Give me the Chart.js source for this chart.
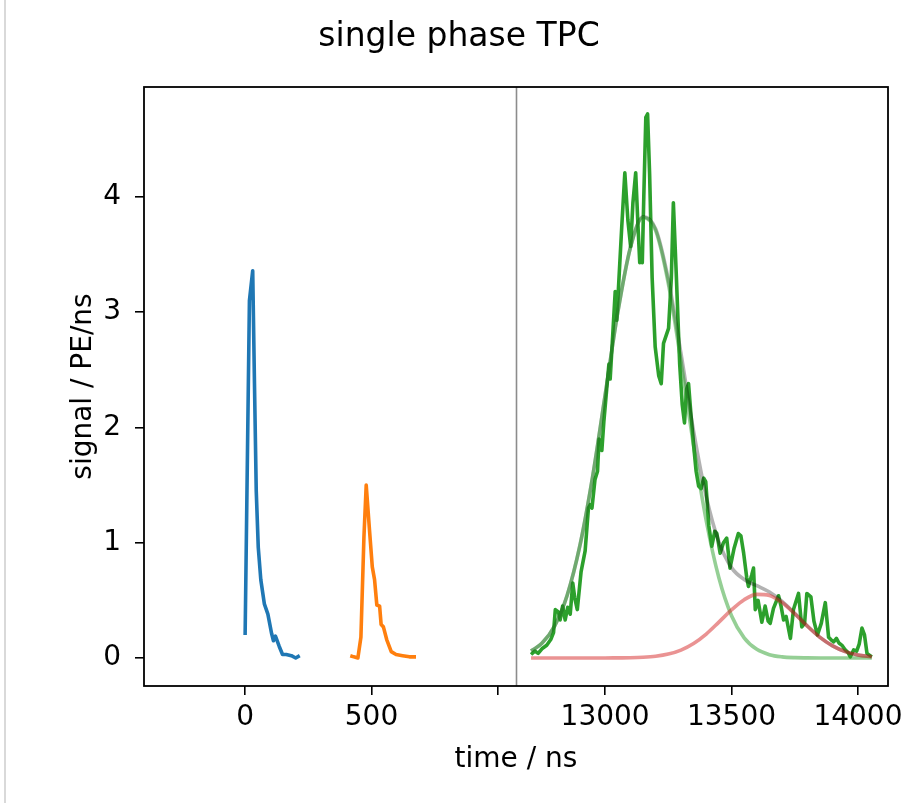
<!DOCTYPE html>
<html><head><meta charset="utf-8">
<script src="https://cdn.jsdelivr.net/npm/chart.js@4.4.1/dist/chart.umd.min.js"></script>
<style>
html,body{margin:0;padding:0;background:#fff;}
#wrap{position:relative;width:906px;height:803px;overflow:hidden;}
#frame{position:absolute;left:4px;top:0;width:2px;height:803px;background:#d9d9d9;}
canvas{position:absolute;left:0;top:0;}
</style></head><body>
<div id="wrap"><canvas id="c" width="906" height="803"></canvas><div id="frame"></div></div>
<script>
const titleText = 'single phase TPC';
const xLabel = 'time / ns';
const yLabel = 'signal / PE/ns';

// first pulse (blue)
const blueTime   = [0, 17, 30, 37, 44, 52, 62, 76, 90, 105, 112, 120, 135, 148, 163, 183, 200, 216];
const blueSignal = [0.2, 3.1, 3.36, 2.38, 1.45, 0.96, 0.68, 0.47, 0.38, 0.21, 0.15, 0.19, 0.1, 0.03, 0.03, 0.02, 0.0, 0.02];

// second pulse (orange)
const orangeTime   = [416, 430, 446, 458, 470, 479, 492, 503, 512, 521, 532, 538, 547, 560, 578, 597, 623, 650, 676];
const orangeSignal = [0.02, 0.01, 0.0, 0.18, 1.05, 1.50, 1.11, 0.79, 0.68, 0.46, 0.45, 0.29, 0.27, 0.16, 0.055, 0.03, 0.02, 0.01, 0.01];

// S2 signal (green)
const greenTime = [12707,12722,12735,12750,12769,12785,12796,12803,12815,12822,12832,12842,12852,12862,12872,12880,12890,12905,12921,12934,
  12941,12948,12960,12970,12976,12987,12995,13005,13015,13020,13030,13040,13046,13055,13066,13078,13090,13101,13110,13121,
  13130,13137,13142,13147,13153,13161,13168,13176,13186,13198,13212,13222,13231,13251,13262,13270,13282,13295,13305,13314,
  13322,13330,13340,13350,13360,13370,13380,13390,13398,13410,13422,13434,13442,13455,13468,13481,13494,13510,13527,13537,
  13548,13560,13567,13580,13587,13594,13605,13620,13633,13645,13653,13666,13686,13696,13706,13716,13733,13745,13765,13778,
  13789,13798,13814,13826,13840,13855,13871,13884,13893,13904,13915,13925,13937,13950,13960,13970,13983,13995,14005,14016,
  14026,14036,14055];
const greenSignal = [0.03,0.06,0.04,0.08,0.11,0.16,0.22,0.42,0.40,0.33,0.45,0.33,0.44,0.38,0.65,0.52,0.42,0.75,0.93,1.30,
  1.33,1.30,1.55,1.62,1.90,1.80,2.05,2.30,2.55,2.42,2.80,3.18,2.93,3.30,3.75,4.21,3.80,3.57,3.95,4.21,
  3.75,3.43,3.55,3.43,4.00,4.69,4.72,4.20,3.30,2.70,2.45,2.38,2.73,2.86,3.30,3.95,3.30,2.55,2.20,2.04,
  2.33,2.38,2.10,1.85,1.62,1.49,1.47,1.56,1.53,1.15,0.97,1.10,1.08,0.91,1.00,1.04,0.78,0.95,1.08,1.06,
  0.91,0.70,0.62,0.72,0.78,0.42,0.50,0.31,0.45,0.32,0.30,0.43,0.54,0.45,0.33,0.36,0.17,0.42,0.56,0.27,
  0.30,0.56,0.53,0.32,0.20,0.30,0.48,0.18,0.16,0.14,0.17,0.13,0.11,0.07,0.05,0.01,0.07,0.06,0.12,0.26,
  0.20,0.04,0.01];

// fit curves
const fitTime   = [12707,12750,12800,12850,12900,12950,13000,13050,13100,13150,13200,13250,13300,13350,13400,13450,13500,13550,13600,13650,13700,13750,13800,13850,13900,13950,14000,14055];
const totalFit  = [0.06,0.127,0.277,0.545,0.972,1.565,2.279,2.998,3.562,3.828,3.723,3.284,2.643,1.967,1.399,1.007,0.784,0.681,0.627,0.572,0.491,0.387,0.277,0.179,0.105,0.055,0.026,0.01];
const mainFit   = [0.06,0.127,0.277,0.545,0.972,1.565,2.279,2.997,3.560,3.822,3.708,3.250,2.574,1.841,1.191,0.696,0.367,0.175,0.075,0.029,0.010,0.003,0.001,0,0,0,0,0];
const secondFit = [0,0,0,0,0,0,0,0.001,0.002,0.006,0.015,0.034,0.069,0.126,0.208,0.311,0.417,0.506,0.552,0.543,0.481,0.384,0.276,0.179,0.105,0.055,0.026,0.01];

// axis ticks
const xTickTimes  = [0, 500, 1000, 13000, 13500, 14000];
const xTickLabels = ['0', '500', '', '13000', '13500', '14000'];
const yTicks = [0, 1, 2, 3, 4];

// broken time axis: left window [-400, 1071.5], right window [12647.5, 14119]
const LEFT_MIN = -400, BREAK_AT = 1071.5, GAP_SHIFT = 11576, RIGHT_MAX = 14119;
const Y_MIN = -0.243, Y_MAX = 4.954;
const toAxis = t => (t > BREAK_AT ? t - GAP_SHIFT : t);
const pts = (ts, vs) => ts.map((t, i) => ({x: toAxis(t), y: vs[i]}));

const FONT = 'DejaVu Sans';

const framePlugin = {
  id: 'frame',
  afterDatasetsDraw(chart) {
    const {ctx, chartArea: a, scales} = chart;
    ctx.save();
    const bx = Math.round(scales.x.getPixelForValue(BREAK_AT)) + 0.5;
    ctx.strokeStyle = '#8c8c8c';
    ctx.lineWidth = 1.6;
    ctx.beginPath(); ctx.moveTo(bx, a.top); ctx.lineTo(bx, a.bottom); ctx.stroke();
    ctx.strokeStyle = '#000';
    ctx.lineWidth = 1.8;
    ctx.strokeRect(a.left, a.top, a.right - a.left, a.bottom - a.top);
    ctx.restore();
  }
};

const lineDs = (data, color, width, order, smooth) => ({
  data, borderColor: color, borderWidth: width, pointRadius: 0, fill: false,
  borderJoinStyle: 'round', borderCapStyle: 'butt', order,
  tension: smooth ? 0.4 : 0, cubicInterpolationMode: smooth ? 'monotone' : 'default'
});

new Chart(document.getElementById('c'), {
  type: 'line',
  data: {
    datasets: [
      lineDs(pts(blueTime, blueSignal), '#1f77b4', 3.6, 10, false),
      lineDs(pts(orangeTime, orangeSignal), '#ff7f0e', 3.6, 9, false),
      lineDs(pts(greenTime, greenSignal), '#2ca02c', 3.6, 8, false),
      lineDs(pts(fitTime, totalFit), 'rgba(0,0,0,0.3)', 3.6, 3, true),
      lineDs(pts(fitTime, mainFit), 'rgba(44,160,44,0.5)', 3.6, 2, true),
      lineDs(pts(fitTime, secondFit), 'rgba(214,39,40,0.5)', 3.6, 1, true)
    ]
  },
  options: {
    responsive: false, animation: false, devicePixelRatio: 1,
    layout: {padding: {left: 30, right: 18, top: 0, bottom: 0}},
    plugins: {
      legend: {display: false}, tooltip: {enabled: false},
      title: {display: true, text: titleText, color: '#000',
        font: {family: FONT, size: 33, weight: 'normal'}, padding: {top: 18, bottom: 29.4}}
    },
    scales: {
      x: {
        type: 'linear', min: LEFT_MIN, max: RIGHT_MAX - GAP_SHIFT,
        afterBuildTicks: s => { s.ticks = xTickTimes.map(t => ({value: toAxis(t)})); },
        afterFit: s => { s.height = 117; s.paddingLeft = 0; s.paddingRight = 0; },
        ticks: {autoSkip: false, maxRotation: 0, color: '#000', padding: 6,
          font: {family: FONT, size: 28},
          callback: (v, i) => xTickLabels[i]},
        grid: {drawOnChartArea: false, drawTicks: true, tickLength: 9, color: '#000', lineWidth: 1.6},
        border: {display: false},
        title: {display: true, text: xLabel, color: '#000', font: {family: FONT, size: 28}, padding: {top: 0, bottom: 26}}
      },
      y: {
        type: 'linear', min: Y_MIN, max: Y_MAX,
        afterBuildTicks: s => { s.ticks = yTicks.map(v => ({value: v})); },
        afterFit: s => { s.width = 114; s.paddingTop = 0; s.paddingBottom = 0; },
        ticks: {color: '#000', padding: 14, font: {family: FONT, size: 28}, callback: v => String(v)},
        grid: {drawOnChartArea: false, drawTicks: true, tickLength: 9, color: '#000', lineWidth: 1.6},
        border: {display: false},
        title: {display: true, text: yLabel, color: '#000', font: {family: FONT, size: 28}, padding: {top: 37, bottom: 0}}
      }
    }
  },
  plugins: [framePlugin]
});
</script>
</body></html>
